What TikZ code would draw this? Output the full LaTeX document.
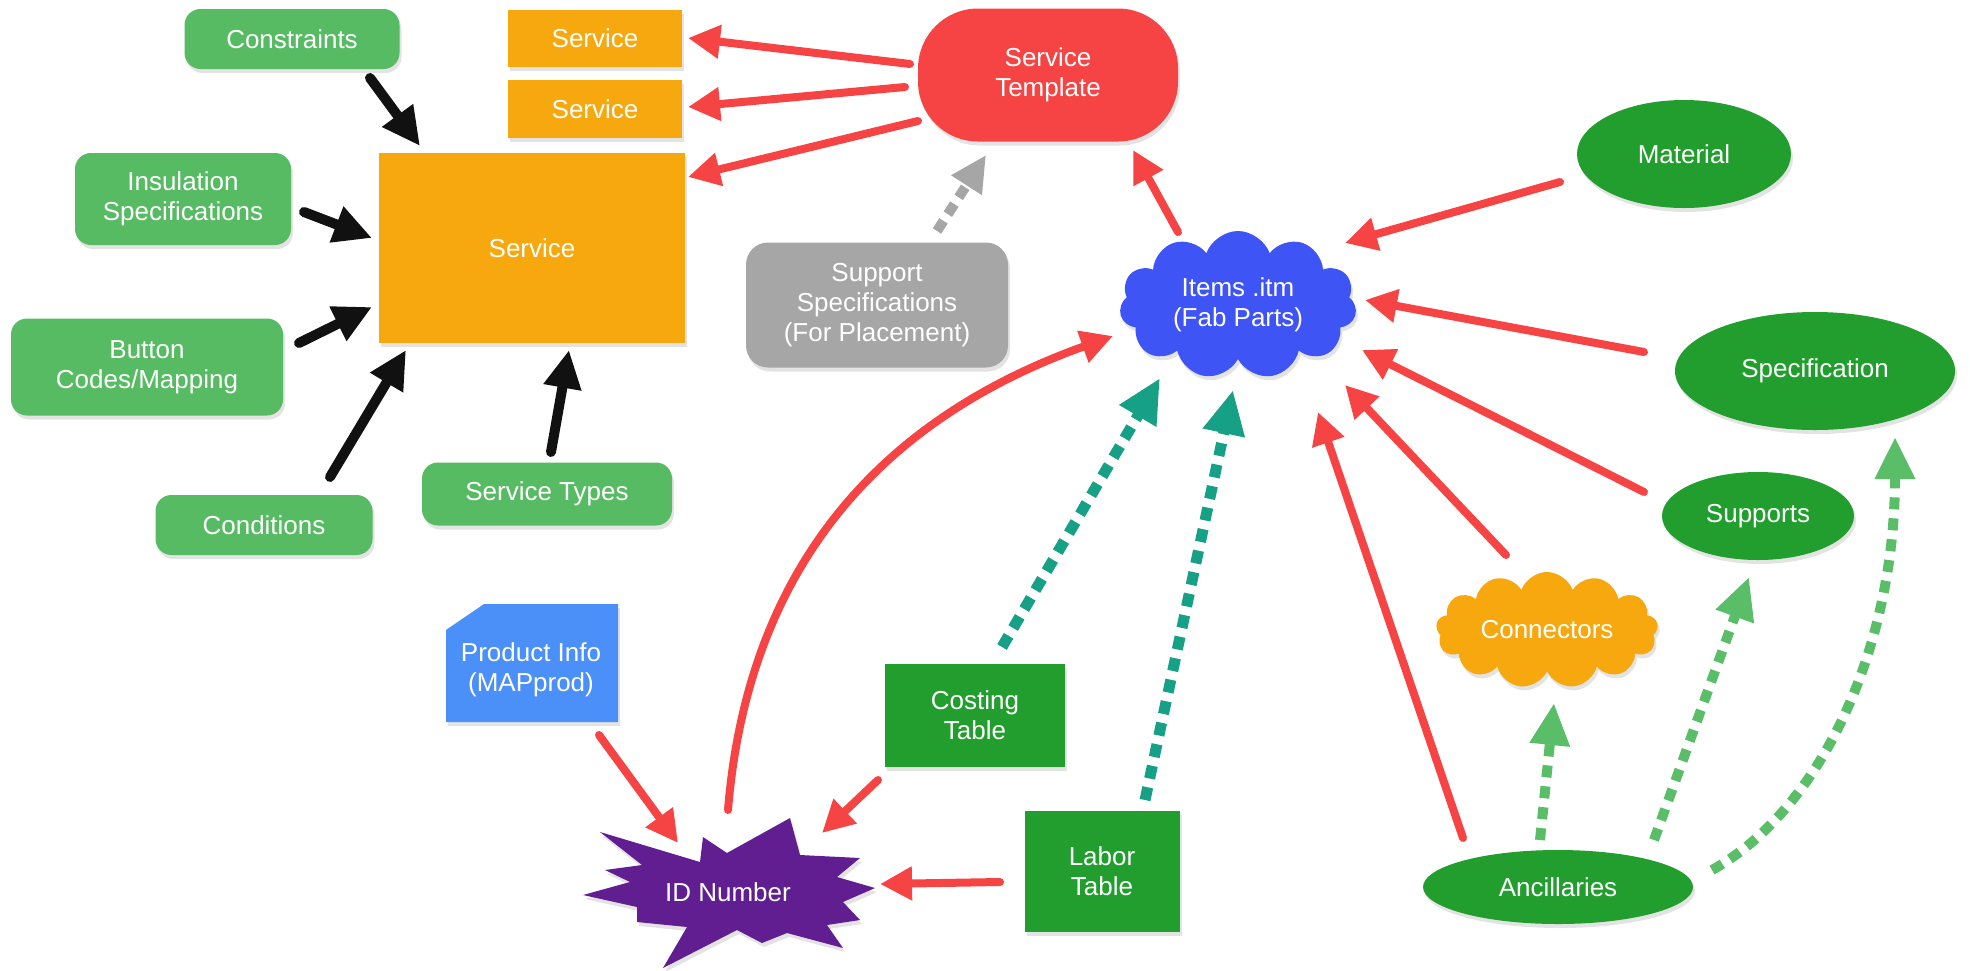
\documentclass[tikz,border=0pt]{standalone}
\usepackage{fontspec}
\setmainfont{Liberation Sans}
\usetikzlibrary{arrows.meta,shapes.geometric,shapes.symbols,shadows,calc}
\definecolor{lgreen}{RGB}{87,187,99}
\definecolor{orng}{RGB}{246,168,14}
\definecolor{redc}{RGB}{246,68,68}
\definecolor{grayc}{RGB}{166,166,166}
\definecolor{bluec}{RGB}{62,84,245}
\definecolor{dgreen}{RGB}{34,158,46}
\definecolor{prodblue}{RGB}{74,144,248}
\definecolor{purp}{RGB}{96,30,145}
\definecolor{tealc}{RGB}{22,160,133}
\definecolor{dashg}{RGB}{90,190,105}
\definecolor{blk}{RGB}{17,17,17}
\newcommand\nodefont{\fontsize{26}{30}\selectfont}
\tikzset{
  shad/.style={drop shadow={shadow xshift=2pt, shadow yshift=-4pt, opacity=0.22}},
  base/.style={shad, text=white, align=center, inner sep=0pt, font=\nodefont},
  lgbox/.style={base, rectangle, rounded corners=16pt, fill=lgreen},
  obox/.style={base, rectangle, fill=orng},
  dgbox/.style={base, rectangle, fill=dgreen},
  dgell/.style={base, ellipse, fill=dgreen},
  cloudbox/.style={base, cloud, cloud ignores aspect, cloud puff arc=140},
  redarr/.style={draw=redc, line width=8pt, line cap=round, -{Triangle[length=32pt,width=32pt]}},
  blkarr/.style={draw=blk, line width=10pt, line cap=round, -{Triangle[length=38pt,width=36pt]}},
  tealarr/.style={draw=tealc, line width=11pt, dash pattern=on 13pt off 9pt, -{Triangle[length=44pt,width=40pt]}},
  greenarr/.style={draw=dashg, line width=10pt, dash pattern=on 12pt off 9pt, -{Triangle[length=42pt,width=38pt]}},
  grayarr/.style={draw=grayc, line width=10pt, dash pattern=on 12pt off 8pt, -{Triangle[length=36pt,width=34pt]}},
}
\begin{document}
\begin{tikzpicture}[x=1pt,y=-1pt]
\useasboundingbox (0,0) rectangle (1970,970);

% left group
\node[lgbox, minimum width=215pt, minimum height=60pt] (con) at (292,39) {Constraints};
\node[lgbox, minimum width=216pt, minimum height=92pt] (ins) at (183,199) {Insulation\\Specifications};
\node[lgbox, minimum width=272pt, minimum height=97pt] (btn) at (147,367) {Button\\Codes/Mapping};
\node[lgbox, minimum width=217pt, minimum height=60pt] (cond) at (264,525) {Conditions};
\node[lgbox, minimum width=250pt, minimum height=63pt] (stypes) at (547,494) {Service Types};
\node[obox, minimum width=306pt, minimum height=190pt] (svc) at (532,248) {Service};
\node[obox, minimum width=174pt, minimum height=57pt] (svc1) at (595,38) {Service};
\node[obox, minimum width=174pt, minimum height=58pt] (svc2) at (595,109) {Service};

% top middle
\node[base, rectangle, rounded corners=60pt, fill=redc, minimum width=260pt, minimum height=133pt] (stemp) at (1048,75) {Service\\Template};
\node[base, rectangle, rounded corners=22pt, fill=grayc, minimum width=262pt, minimum height=125pt] (sup) at (877,305) {Support\\Specifications\\(For Placement)};
\node[cloudbox, cloud puffs=11, fill=bluec, minimum width=237pt, minimum height=148pt] (items) at (1238,305) {Items .itm\\(Fab Parts)};

% right group
\node[dgell, minimum width=214pt, minimum height=108pt] (mat) at (1684,154) {Material};
\node[dgell, minimum width=280pt, minimum height=118pt] (spec) at (1815,371) {Specification};
\node[dgell, minimum width=192pt, minimum height=88pt] (sups) at (1758,516) {Supports};
\node[cloudbox, cloud puffs=13, fill=orng, minimum width=222pt, minimum height=116pt] (conn) at (1547,630) {Connectors};
\node[dgell, minimum width=270pt, minimum height=74pt] (anc) at (1558,887) {Ancillaries};

% bottom middle
\fill[prodblue, shad] (446,722) -- (618,722) -- (618,604) -- (484,604) -- (446,630) -- cycle;
\node[text=white, align=center, font=\nodefont, inner sep=0pt] (prod) at (531,670) {Product Info\\(MAPprod)};
\node[dgbox, minimum width=180pt, minimum height=103pt] (cost) at (975,715) {Costing\\Table};
\node[dgbox, minimum width=155pt, minimum height=121pt] (labor) at (1102,871) {Labor\\Table};
\fill[purp, shad] (583,895) -- (630,882) -- (605,870) -- (642,865) -- (600,832) -- (700,862)
  -- (703,837) -- (727,853) -- (790,818) -- (800,855) -- (860,858) -- (837,877) -- (875,888)
  -- (843,902) -- (860,920) -- (827,925) -- (843,948) -- (787,933) -- (762,943) -- (737,930)
  -- (663,968) -- (687,927) -- (637,922) -- (637,907) -- cycle;
\node[text=white, font=\nodefont, inner sep=0pt] (idn) at (728,892) {ID Number};

% black arrows
\draw[blkarr] ($(con)+(78,39)$) -- ($(svc)+(-112,-102)$);
\draw[blkarr] ($(ins)+(121,13)$) -- ($(svc)+(-160,-10)$);
\draw[blkarr] ($(btn)+(152,-24)$) -- ($(svc)+(-160,59)$);
\draw[blkarr] ($(cond)+(66,-48)$) -- ($(svc)+(-126,102)$);
\draw[blkarr] ($(stypes)+(4,-42)$) -- ($(svc)+(37,102)$);

% red arrows
\draw[redarr] ($(stemp)+(-138,-11)$) -- ($(svc1)+(93,0)$);
\draw[redarr] ($(stemp)+(-143,12)$) -- ($(svc2)+(93,-2)$);
\draw[redarr] ($(stemp)+(-130,46)$) -- ($(svc)+(156,-71)$);
\draw[redarr] ($(items)+(-60,-73)$) -- ($(stemp)+(85,75)$);
\draw[redarr] ($(mat)+(-124,28)$) -- ($(items)+(107,-62)$);
\draw[redarr] ($(spec)+(-171,-19)$) -- ($(items)+(127,-5)$);
\draw[redarr] ($(sups)+(-114,-24)$) -- ($(items)+(124,45)$);
\draw[redarr] ($(conn)+(-41,-75)$) -- ($(items)+(107,80)$);
\draw[redarr] ($(anc)+(-95,-49)$) -- ($(items)+(80,107)$);
\draw[redarr] ($(idn)+(0,-82)$) .. controls (745,600) and (850,430) .. ($(items)+(-125,31)$);
\draw[redarr] ($(prod)+(68,65)$) -- ($(idn)+(-50,-49)$);
\draw[redarr] ($(cost)+(-97,65)$) -- ($(idn)+(94,-59)$);
\draw[redarr] ($(labor)+(-102,11)$) -- ($(idn)+(152,-8)$);

% dashed arrows
\draw[tealarr] ($(cost)+(27,-68)$) -- ($(items)+(-78,73)$);
\draw[tealarr] ($(labor)+(43,-71)$) -- ($(items)+(-5,85)$);
\draw[grayarr] ($(sup)+(60,-74)$) -- ($(stemp)+(-62,80)$);
\draw[greenarr] ($(anc)+(-18,-47)$) -- ($(conn)+(7,73)$);
\draw[greenarr] ($(anc)+(96,-47)$) -- ($(sups)+(-9,61)$);
\draw[greenarr] ($(anc)+(154,-17)$) .. controls (1820,810) and (1895,650) .. ($(spec)+(80,66)$);
\end{tikzpicture}
\end{document}
